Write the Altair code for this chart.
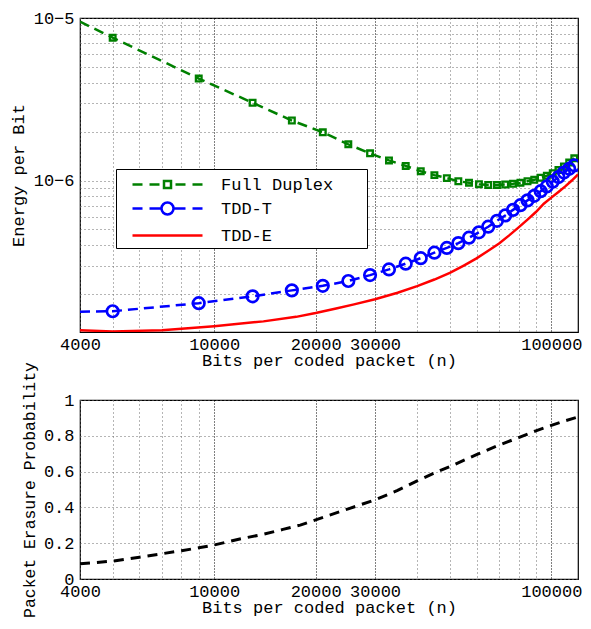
import altair as alt
import pandas as pd

# ---------------- data ----------------
# marker positions (bits per coded packet)
n_markers = [5000, 9000, 13000, 17000, 21000, 25000, 29000, 33000, 37000, 41000,
             45000, 49000, 53000, 57000, 61000, 65000, 69000, 73000, 77000, 81000,
             85000, 89000, 93000, 97000, 101000, 105000, 109000, 113000, 117000]

# Full Duplex energy per bit (x1e-6)
full_duplex = [7.57, 4.24, 3.01, 2.34, 1.98, 1.67, 1.47, 1.33, 1.23, 1.14,
               1.08, 1.035, 0.99, 0.97, 0.95, 0.94, 0.94, 0.945, 0.955, 0.97,
               0.99, 1.01, 1.04, 1.07, 1.11, 1.16, 1.22, 1.29, 1.37]
full_duplex_start = 9.5  # at n = 4000

# TDD-T energy per bit (x1e-7)
tdd_t = [1.57, 1.76, 1.94, 2.11, 2.25, 2.41, 2.62, 2.84, 3.08, 3.33,
         3.6, 3.85, 4.12, 4.45, 4.8, 5.2, 5.65, 6.1, 6.6, 7.05,
         7.55, 8.05, 8.6, 9.2, 9.85, 10.5, 11.2, 11.8, 12.4]
tdd_t_start = 1.56  # at n = 4000

# TDD-E energy per bit (x1e-7)
n_tdd_e = [4000, 5000, 7000, 10000, 14000, 17500, 20000, 23000, 26000, 30000,
           35000, 40000, 45000, 50000, 55000, 60000, 65000, 70000, 75000, 80000,
           85000, 90000, 95000, 100000, 105000, 110000, 115000, 120000]
tdd_e = [1.20, 1.18, 1.20, 1.27, 1.36, 1.45, 1.53, 1.63, 1.73, 1.86,
         2.04, 2.24, 2.46, 2.70, 3.0, 3.32, 3.7, 4.1, 4.6, 5.15,
         5.75, 6.4, 7.2, 7.85, 8.5, 9.2, 10.0, 10.9]

# Packet erasure probability
n_erasure = [4000, 5000, 6000, 7000, 8000, 9000, 10000, 12000, 14000, 16000,
             18000, 20000, 25000, 30000, 35000, 40000, 45000, 50000, 60000, 70000,
             80000, 90000, 100000, 110000, 120000]
erasure = [0.085, 0.100, 0.122, 0.141, 0.158, 0.174, 0.190, 0.225, 0.250, 0.277,
           0.301, 0.330, 0.392, 0.442, 0.495, 0.548, 0.592, 0.628, 0.695, 0.748,
           0.790, 0.828, 0.858, 0.884, 0.905]

series_names = ["Full Duplex", "TDD-T", "TDD-E"]
series_colors = ["#008000", "#0000ff", "#ff0000"]

x_grid_values = [4000, 5000, 6000, 7000, 8000, 9000, 10000, 20000, 30000, 40000,
                 50000, 60000, 70000, 80000, 90000, 100000]
x_label_values = [4000, 10000, 20000, 30000, 100000]
y_top_grid = [2e-7, 3e-7, 4e-7, 5e-7, 6e-7, 7e-7, 8e-7, 9e-7,
              1e-6, 2e-6, 3e-6, 4e-6, 5e-6, 6e-6, 7e-6, 8e-6, 9e-6, 1e-5]
y_bot_values = [0, 0.2, 0.4, 0.6, 0.8, 1]

# ---------------- tables ----------------
df_fd_pts = pd.DataFrame({"n": n_markers, "e": [v * 1e-6 for v in full_duplex]})
df_fd_line = pd.DataFrame({"n": [4000] + n_markers,
                           "e": [full_duplex_start * 1e-6] + [v * 1e-6 for v in full_duplex]})
df_tt_pts = pd.DataFrame({"n": n_markers, "e": [v * 1e-7 for v in tdd_t]})
df_tt_line = pd.DataFrame({"n": [4000] + n_markers,
                           "e": [tdd_t_start * 1e-7] + [v * 1e-7 for v in tdd_t]})
df_te = pd.DataFrame({"n": n_tdd_e, "e": [v * 1e-7 for v in tdd_e]})
df_er = pd.DataFrame({"n": n_erasure, "p": erasure})
df_leg = pd.DataFrame({"series": series_names,
                       "n": [n_markers[0], n_markers[0], n_tdd_e[0]],
                       "e": [full_duplex[0] * 1e-6, tdd_t[0] * 1e-7, tdd_e[0] * 1e-7]})

FONT = "Liberation Mono"
FS = 17
W = 498

label_test = " || ".join(f"datum.value == {v}" for v in x_label_values)
major = " || ".join(f"datum.value == {v}" for v in x_label_values[1:])
grid_color = {"condition": {"test": major, "value": "#000000"}, "value": "#6a6a6a"}
grid_dash = {"condition": {"test": major, "value": [1, 2]}, "value": [1, 3]}


def x_axis():
    return alt.Axis(values=x_grid_values, format="d",
                    labelExpr=f"({label_test}) ? datum.label : ''",
                    labelFlush=False, labelOverlap=False, labelPadding=4,
                    title="Bits per coded packet (n)", titlePadding=0,
                    grid=True, gridColor=grid_color, gridDash=grid_dash, gridWidth=1,
                    ticks=False, domain=False)


x_scale = alt.Scale(type="log", domain=[4000, 120000], nice=False)
y_top_scale = alt.Scale(type="log", domain=[1.17e-7, 1e-5], nice=False)

y_top_axis = alt.Axis(values=y_top_grid,
                      labelExpr="datum.value == 1e-5 ? '10\u22125' : (datum.value == 1e-6 ? '10\u22126' : '')",
                      labelOverlap=False, labelPadding=6, title="Energy per Bit", titlePadding=6,
                      grid=True, gridColor="#6a6a6a", gridDash=[1, 3], ticks=False, domain=False)

X = alt.X("n:Q", scale=x_scale, axis=x_axis())
Y = alt.Y("e:Q", scale=y_top_scale, axis=y_top_axis)

fd_line = alt.Chart(df_fd_line).mark_line(color=series_colors[0], strokeWidth=2.5,
                                          strokeDash=[10, 6], clip=True).encode(x=X, y=Y)
fd_pts = alt.Chart(df_fd_pts).mark_point(shape="square", filled=False, color=series_colors[0],
                                         size=32, strokeWidth=2.3, opacity=1, clip=True).encode(x=X, y=Y)
tt_line = alt.Chart(df_tt_line).mark_line(color=series_colors[1], strokeWidth=2.5,
                                          strokeDash=[10, 6], clip=True).encode(x=X, y=Y)
tt_pts = alt.Chart(df_tt_pts).mark_point(shape="circle", filled=False, color=series_colors[1],
                                         size=132, strokeWidth=2.7, opacity=1, clip=True).encode(x=X, y=Y)
te_line = alt.Chart(df_te).mark_line(color=series_colors[2], strokeWidth=2.5, clip=True).encode(x=X, y=Y)

# legend symbols: dashed line + marker drawn as custom symbol paths
# (a trailing move-to widens the legend box to the reference's width)
sq_path = ("M-3.5,0H-2.5M-1.8,0H-0.8M-0.35,-0.35H0.35V0.35H-0.35ZM0.8,0H1.8M2.5,0H3.5")
ci_path = ("M-3.5,0H-2.5M-1.8,0H-0.7M0.6,0A0.6,0.6,0,1,1,-0.6,0A0.6,0.6,0,1,1,0.6,0Z"
           "M0.7,0H1.8M2.5,0H3.5")
ln_path = "M-3.5,0H3.5M19.0,0"

leg = alt.Legend(title=None, orient="none", legendX=36, legendY=151, direction="vertical",
                 fillColor="white", strokeColor="black", padding=4, cornerRadius=0,
                 symbolSize=400, symbolStrokeWidth=2.5, symbolOffset=36, symbolOpacity=1,
                 symbolFillColor="transparent", labelOffset=42, rowPadding=4,
                 labelFont=FONT, labelFontSize=FS, labelColor="black", labelLimit=0)

legend_layer = alt.Chart(df_leg).mark_point(filled=False, opacity=0).encode(
    x=X, y=Y,
    color=alt.Color("series:N", scale=alt.Scale(domain=series_names, range=series_colors), legend=leg),
    shape=alt.Shape("series:N", scale=alt.Scale(domain=series_names, range=[sq_path, ci_path, ln_path]),
                    legend=leg),
)

top = alt.layer(fd_line, fd_pts, tt_line, tt_pts, te_line, legend_layer).properties(width=W, height=314)

# bottom panel
y_bot_axis = alt.Axis(values=y_bot_values,
                      labelExpr="datum.value == 0 ? '0' : (datum.value == 1 ? '1' : format(datum.value, '.1f'))",
                      labelOverlap=False, labelPadding=6, title="Packet Erasure Probability", titlePadding=6,
                      titleFontSize=16.4,
                      grid=True, gridColor="#6a6a6a", gridDash=[1, 3], ticks=False, domain=False)

bottom = alt.Chart(df_er).mark_line(color="black", strokeWidth=3, strokeDash=[10, 7], clip=True).encode(
    x=alt.X("n:Q", scale=x_scale, axis=x_axis()),
    y=alt.Y("p:Q", scale=alt.Scale(domain=[0, 1], nice=False), axis=y_bot_axis),
).properties(width=W, height=179)

chart = alt.vconcat(top, bottom, spacing=68, bounds="flush").properties(
    padding={"left": 0, "top": 0, "right": 0, "bottom": 0}
).configure_view(stroke="black", strokeWidth=1.2).configure_axis(
    labelFont=FONT, titleFont=FONT, labelFontSize=FS, titleFontSize=FS,
    titleFontWeight="normal", labelColor="black", titleColor="black"
).configure_legend(labelFont=FONT)

chart.save("out.html", embed_options={"renderer": "svg", "actions": False})
